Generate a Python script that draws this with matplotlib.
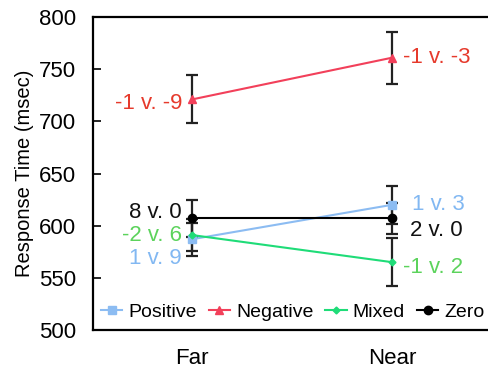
import matplotlib
matplotlib.use("Agg")
import matplotlib.pyplot as plt
from matplotlib.lines import Line2D

plt.rcParams['font.family'] = ['Liberation Sans', 'DejaVu Sans']

# data
conditions = ['Far', 'Near']
series = ['Positive', 'Negative', 'Mixed', 'Zero']
positive = [587, 620]
negative = [721, 761]
mixed = [591, 565]
zero = [607, 607]
positive_err = [16, 18]
negative_err = [23, 25]
mixed_err = [15, 23]
zero_err = [18, 15]
labels_far = ['1 v. 9', '-1 v. -9', '-2 v. 6', '8 v. 0']
labels_near = ['1 v. 3', '-1 v. -3', '-1 v. 2', '2 v. 0']

values = [positive, negative, mixed, zero]
errors = [positive_err, negative_err, mixed_err, zero_err]
line_colors = ['#8cbcf2', '#f2405a', '#1fdc78', '#000000']
text_colors = ['#82b8f2', '#e63a2c', '#5cd35c', '#111111']
markers = ['s', '^', 'D', 'o']
msizes = [5.5, 6, 3.5, 6]
# label offsets in pixels (dx, dy) for far / near
far_off = [(-10, -19), (-10, -4), (-10, 0), (-10, 6)]
near_off = [(20, 0), (11, 0), (11, -5), (18, -12)]

fig = plt.figure(figsize=(4.88, 3.7), dpi=100)
ax = fig.add_axes([93 / 488, 40 / 370, 0.82, 313 / 370])

x = list(range(len(conditions)))
handles = []
for i, name in enumerate(series):
    ax.errorbar(x, values[i], yerr=errors[i], color=line_colors[i], ecolor='#222222',
                elinewidth=1.6, capsize=4, capthick=1.6, lw=1.5,
                marker=markers[i], markersize=msizes[i], zorder=3)
    handles.append(Line2D([], [], color=line_colors[i], lw=1.5,
                          marker=markers[i], markersize=msizes[i], label=name))
    ax.annotate(labels_far[i], (x[0], values[i][0]), xytext=far_off[i],
                textcoords='offset pixels', ha='right', va='center',
                color=text_colors[i], fontsize=16)
    ax.annotate(labels_near[i], (x[1], values[i][1]), xytext=near_off[i],
                textcoords='offset pixels', ha='left', va='center',
                color=text_colors[i], fontsize=16)

ax.set_xlim(-0.495, 1.505)
ax.set_ylim(500, 800)
ax.set_yticks(range(500, 801, 50))
ax.set_xticks(x)
ax.set_xticklabels(conditions)
ax.tick_params(axis='y', direction='in', length=6, width=1.2, pad=12, labelsize=16)
ax.tick_params(axis='x', length=0, pad=13, labelsize=16)
ax.set_ylabel('Response Time (msec)', fontsize=14.5, labelpad=4)

ax.spines['right'].set_visible(False)
for s in ['left', 'top', 'bottom']:
    ax.spines[s].set_linewidth(1.6)

ax.legend(handles=handles, loc='center left', bbox_to_anchor=(101 / 488, 1 - 312 / 370),
          bbox_transform=fig.transFigure, ncol=4, frameon=False, fontsize=14,
          handlelength=1.1, handletextpad=0.3, columnspacing=0.62, borderpad=0,
          borderaxespad=0)

fig.savefig('out.png', dpi=100)
